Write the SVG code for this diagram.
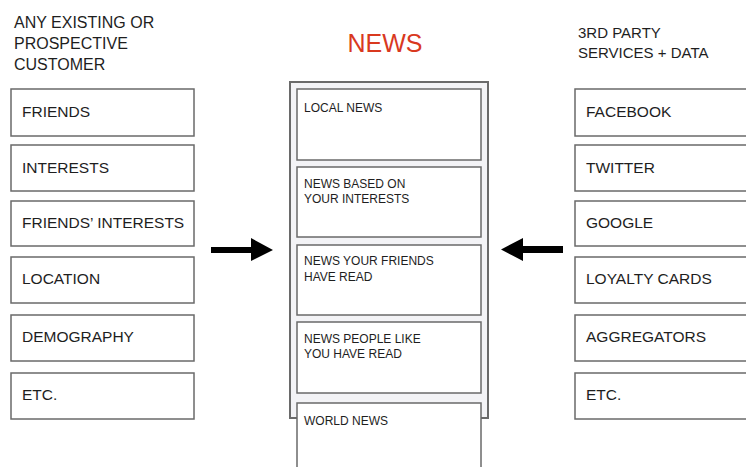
<svg xmlns="http://www.w3.org/2000/svg" width="746" height="467" viewBox="0 0 746 467">
<style>
text{font-family:"Liberation Sans",Arial,sans-serif;fill:#1e1e1e}
.hd{font-size:15px}
.hl{font-size:16px}
.bx{fill:#fff;stroke:#6a6a6a;stroke-width:1.5}
.bl{font-size:15.5px}
.nb{fill:#fff;stroke:#6a6a6a;stroke-width:1.5}
.nt{font-size:12px}
.title{font-size:25px;fill:#d9391f}
</style>
<rect width="746" height="467" fill="#fff"/>
<g id="left-header"><text class="hl" x="14" y="28">ANY EXISTING OR</text><text class="hl" x="14" y="49">PROSPECTIVE</text><text class="hl" x="14" y="70">CUSTOMER</text></g>
<g id="right-header"><text class="hd" x="578" y="38">3RD PARTY</text><text class="hd" x="578" y="58">SERVICES + DATA</text></g>
<g id="title"><text class="title" x="385" y="52" text-anchor="middle">NEWS</text></g>
<g id="friends"><rect class="bx" x="11" y="89" width="183" height="47"/><text class="bl" x="22" y="117">FRIENDS</text></g>
<g id="interests"><rect class="bx" x="11" y="145" width="183" height="46"/><text class="bl" x="22" y="173">INTERESTS</text></g>
<g id="friends-interests"><rect class="bx" x="11" y="201" width="183" height="45"/><text class="bl" x="22" y="228">FRIENDS’ INTERESTS</text></g>
<g id="location"><rect class="bx" x="11" y="257" width="183" height="46"/><text class="bl" x="22" y="284">LOCATION</text></g>
<g id="demography"><rect class="bx" x="11" y="315" width="183" height="46"/><text class="bl" x="22" y="342">DEMOGRAPHY</text></g>
<g id="etc-left"><rect class="bx" x="11" y="373" width="183" height="46"/><text class="bl" x="22" y="400">ETC.</text></g>
<g id="facebook"><rect class="bx" x="575" y="89" width="180" height="47"/><text class="bl" x="586" y="117">FACEBOOK</text></g>
<g id="twitter"><rect class="bx" x="575" y="145" width="180" height="46"/><text class="bl" x="586" y="173">TWITTER</text></g>
<g id="google"><rect class="bx" x="575" y="201" width="180" height="45"/><text class="bl" x="586" y="228">GOOGLE</text></g>
<g id="loyalty-cards"><rect class="bx" x="575" y="257" width="180" height="46"/><text class="bl" x="586" y="284">LOYALTY CARDS</text></g>
<g id="aggregators"><rect class="bx" x="575" y="315" width="180" height="46"/><text class="bl" x="586" y="342">AGGREGATORS</text></g>
<g id="etc-right"><rect class="bx" x="575" y="373" width="180" height="46"/><text class="bl" x="586" y="400">ETC.</text></g>
<g id="news-container"><rect x="290" y="82" width="198" height="336" fill="#f3f3f6" stroke="#6a6a6a" stroke-width="2"/></g>
<g id="local-news"><rect class="nb" x="297" y="89" width="184" height="71"/><text class="nt" x="304" y="112">LOCAL NEWS</text></g>
<g id="news-interests"><rect class="nb" x="297" y="167" width="184" height="70"/><text class="nt" x="304" y="188">NEWS BASED ON</text><text class="nt" x="304" y="203">YOUR INTERESTS</text></g>
<g id="news-friends"><rect class="nb" x="297" y="245" width="184" height="70"/><text class="nt" x="304" y="265">NEWS YOUR FRIENDS</text><text class="nt" x="304" y="281">HAVE READ</text></g>
<g id="news-people"><rect class="nb" x="297" y="322" width="184" height="71"/><text class="nt" x="304" y="343">NEWS PEOPLE LIKE</text><text class="nt" x="304" y="358">YOU HAVE READ</text></g>
<g id="world-news"><rect class="nb" x="297" y="403" width="184" height="80"/><text class="nt" x="304" y="425">WORLD NEWS</text></g>
<g id="connectors">
<path d="M211 247 H251 V238 L273 250 L251 261 V253 H211 Z" fill="#000"/>
<path d="M563 246 H523 V238 L501 249.5 L523 261 V253 H563 Z" fill="#000"/>
</g>
</svg>
